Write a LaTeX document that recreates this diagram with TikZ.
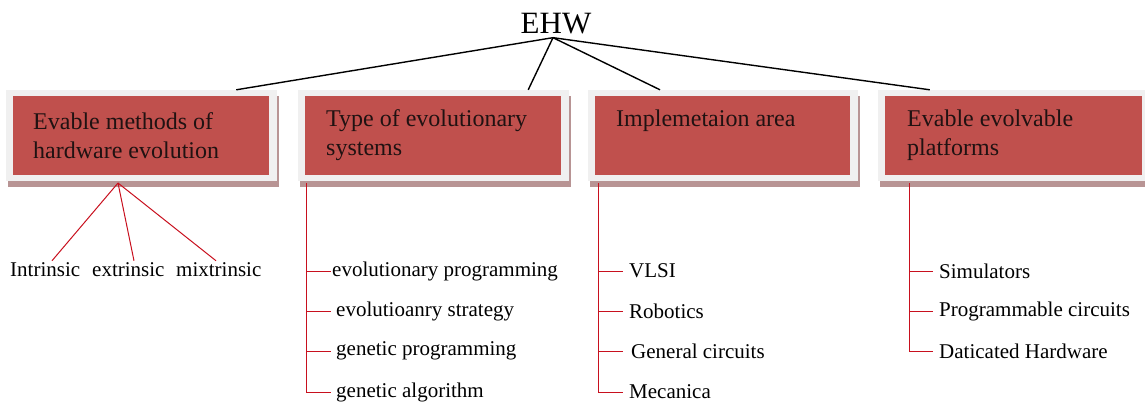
\documentclass[tikz,border=0pt]{standalone}
\usepackage{fontspec}
\setmainfont{Liberation Serif}
\usetikzlibrary{fit,calc}

\definecolor{boxred}{RGB}{192,80,77}
\definecolor{framegray}{RGB}{240,240,240}
\definecolor{shadowgray}{RGB}{184,148,148}
\definecolor{linkred}{RGB}{200,16,30}
\definecolor{inktext}{RGB}{32,18,18}

\tikzset{
  x=1pt, y=-1pt,
  frame/.style={fill=framegray, draw=none, inner sep=0},
  panel/.style={fill=boxred, draw=none, inner sep=0},
  boxtext/.style={anchor=west, inner sep=0, align=left, text=inktext,
    font=\fontsize{24}{29}\selectfont},
  leaf/.style={anchor=west, inner sep=0, font=\fontsize{21}{25}\selectfont},
  toplink/.style={black, line width=1.4pt},
  sublink/.style={linkred, line width=1pt},
}

% category box: name, left, top, right, bottom (outer frame)
\newcommand\evbox[5]{%
  \fill[shadowgray] (#2+2,#3+6) rectangle (#4+2,#5+6);
  \coordinate (#1-a) at (#2,#3);
  \coordinate (#1-b) at (#4,#5);
  \node[frame, fit=(#1-a)(#1-b)] (#1) {};
  \coordinate (#1-c) at (#2+7,#3+6);
  \coordinate (#1-d) at (#4-8,#5-6);
  \node[panel, fit=(#1-c)(#1-d)] (#1in) {};
}

\begin{document}
\begin{tikzpicture}
\useasboundingbox (0,0) rectangle (1145,402);

% root
\node[anchor=base, inner xsep=0, inner ysep=4pt, font=\fontsize{31}{36}\selectfont]
  (ehw) at (556,33) {EHW};

% four category boxes
\evbox{b1}{6}{90}{277}{181}
\evbox{b2}{298}{90}{569}{181}
\evbox{b3}{588}{90}{858}{181}
\evbox{b4}{878}{90}{1150}{181}

\node[boxtext] (t1) at (33,135.5) {Evable methods of\\hardware evolution};
\node[boxtext] (t2) at (326,135.5) {Type of evolutionary\\systems};
\node[boxtext] (t3) at (616,121) {Implemetaion area};
\node[boxtext] (t4) at (907,135.5) {Evable evolvable\\platforms};

% root links
\draw[toplink] ($(ehw.south)+(-3,0)$) -- ($(b1.north west)!0.849!(b1.north east)$);
\draw[toplink] ($(ehw.south)+(-3,0)$) -- ($(b2.north west)!0.849!(b2.north east)$);
\draw[toplink] ($(ehw.south)+(-3,0)$) -- ($(b3.north west)!0.267!(b3.north east)$);
\draw[toplink] ($(ehw.south)+(-3,0)$) -- ($(b4.north west)!0.191!(b4.north east)$);

% methods of hardware evolution
\node[leaf] (m1) at (10,270) {Intrinsic};
\node[leaf] (m2) at (92,270) {extrinsic};
\node[leaf] (m3) at (176,270) {mixtrinsic};
\coordinate (b1foot) at (118,183);
\draw[sublink] (b1foot) -- ($(m1.north west)+(42,-2)$);
\draw[sublink] (b1foot) -- ($(m2.north west)+(42,-2)$);
\draw[sublink] (b1foot) -- ($(m3.north west)+(40,-2)$);

% types of evolutionary systems
\coordinate (b2foot) at (306,183);
\node[leaf] (s1) at (332,271) {evolutionary programming};
\node[leaf] (s2) at (336,311) {evolutioanry strategy};
\node[leaf] (s3) at (336,351) {genetic programming};
\node[leaf] (s4) at (336,392) {genetic algorithm};
\draw[sublink] (b2foot) |- (s4.west -| 331,0);
\foreach \s in {s1,s2,s3}
  \draw[sublink] (s4.west -| 306,0) ++(0,0) (\s.west -| 306,0) -- (\s.west -| 331,0);

% implementation area
\coordinate (b3foot) at (598,183);
\node[leaf] (i1) at (629,271) {VLSI};
\node[leaf] (i2) at (629,311) {Robotics};
\node[leaf] (i3) at (631,351) {General circuits};
\node[leaf] (i4) at (629,392) {Mecanica};
\draw[sublink] (b3foot) |- (i4.west -| 623,0);
\foreach \s in {i1,i2,i3}
  \draw[sublink] (\s.west -| 598,0) -- (\s.west -| 623,0);

% evolvable platforms
\coordinate (b4foot) at (909,183);
\node[leaf] (p1) at (939,271) {Simulators};
\node[leaf] (p2) at (939,311) {Programmable circuits};
\node[leaf] (p3) at (939,351) {Daticated Hardware};
\draw[sublink] (b4foot) |- (p3.west -| 933,0);
\foreach \s in {p1,p2}
  \draw[sublink] (\s.west -| 909,0) -- (\s.west -| 933,0);
\end{tikzpicture}
\end{document}
